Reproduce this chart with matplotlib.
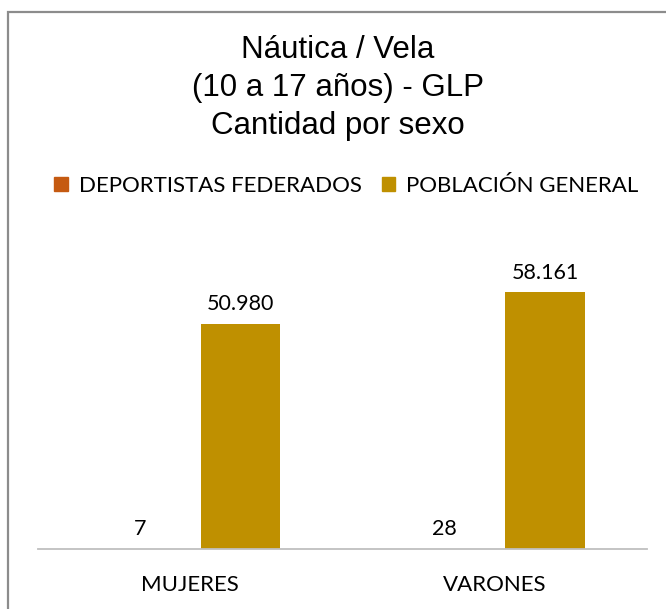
import matplotlib.pyplot as plt
import matplotlib.patches as mpatches
import numpy as np

categorias = ['MUJERES', 'VARONES']
federados = [7, 28]
poblacion = [50980, 58161]
series = ['DEPORTISTAS FEDERADOS', 'POBLACIÓN GENERAL']
colores = ['#C55A11', '#BF9000']


def fmt(v):
    return '{:,}'.format(v).replace(',', '.')


fig = plt.figure(figsize=(6.66, 6.09), dpi=100)

# marco del grafico (se sale por derecha y abajo)
borde = mpatches.Rectangle((7.5 / 666, -0.05), 1.0, 1 - 11.5 / 609 + 0.05,
                           transform=fig.transFigure, fill=False,
                           edgecolor='#8C8C8C', linewidth=1.6)
fig.patches.append(borde)

ax = fig.add_axes([38 / 666, 1 - 549 / 609, 609 / 666, 309 / 609])

x = np.arange(len(categorias))
off = 0.165
w = 0.262
b1 = ax.bar(x - off, federados, w, color=colores[0], label=series[0])
b2 = ax.bar(x + off, poblacion, w, color=colores[1], label=series[1])

for rects, vals in ((b1, federados), (b2, poblacion)):
    for r, v in zip(rects, vals):
        ax.annotate(fmt(v), (r.get_x() + r.get_width() / 2, r.get_height()),
                    xytext=(0, 7), textcoords='offset points',
                    ha='center', va='bottom', fontsize=15.5, family='Lato')

ax.set_xlim(-0.5, 1.5)
ax.set_ylim(0, 70000)
ax.set_yticks([])
ax.set_xticks(x)
ax.set_xticklabels(categorias, fontsize=16, family='Lato')
ax.tick_params(axis='x', length=0, pad=19)
for s in ['top', 'right', 'left']:
    ax.spines[s].set_visible(False)
ax.spines['bottom'].set_color('#BFBFBF')
ax.spines['bottom'].set_linewidth(1.3)

fig.text(0.507, 1 - 35 / 609, 'Náutica / Vela\n(10 a 17 años) - GLP\nCantidad por sexo',
         ha='center', va='top', fontsize=22.5, family='Liberation Sans',
         linespacing=1.34)

fig.legend(handles=[mpatches.Patch(color=colores[0], label=series[0]),
                    mpatches.Patch(color=colores[1], label=series[1])],
           loc='center', bbox_to_anchor=(0.52, 1 - 186 / 609), ncol=2,
           frameon=False, prop={'family': 'Lato', 'size': 16},
           handlelength=0.6, handleheight=0.6, handletextpad=0.5,
           columnspacing=0.9)

fig.savefig('out.png', dpi=100)
